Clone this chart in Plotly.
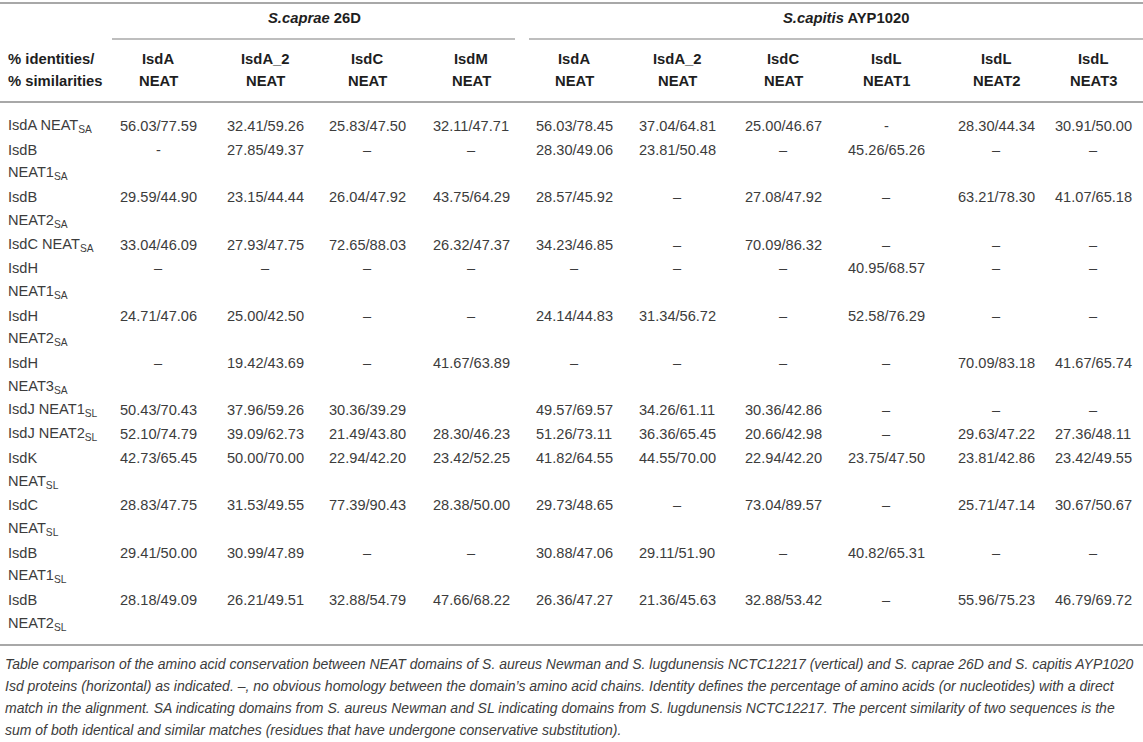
import plotly.graph_objects as go

# ---------------- data ----------------
group_names = ["<i>S.caprae</i> 26D", "<i>S.capitis</i> AYP1020"]
col_top = ["IsdA", "IsdA_2", "IsdC", "IsdM", "IsdA", "IsdA_2", "IsdC", "IsdL", "IsdL", "IsdL"]
col_bottom = ["NEAT", "NEAT", "NEAT", "NEAT", "NEAT", "NEAT", "NEAT", "NEAT1", "NEAT2", "NEAT3"]
corner_label = ["% identities/", "% similarities"]

row_labels = [
    ["IsdA NEAT<sub>SA</sub>"],
    ["IsdB", "NEAT1<sub>SA</sub>"],
    ["IsdB", "NEAT2<sub>SA</sub>"],
    ["IsdC NEAT<sub>SA</sub>"],
    ["IsdH", "NEAT1<sub>SA</sub>"],
    ["IsdH", "NEAT2<sub>SA</sub>"],
    ["IsdH", "NEAT3<sub>SA</sub>"],
    ["IsdJ NEAT1<sub>SL</sub>"],
    ["IsdJ NEAT2<sub>SL</sub>"],
    ["IsdK", "NEAT<sub>SL</sub>"],
    ["IsdC", "NEAT<sub>SL</sub>"],
    ["IsdB", "NEAT1<sub>SL</sub>"],
    ["IsdB", "NEAT2<sub>SL</sub>"],
]

D = "\u2013"
values = [
    ["56.03/77.59", "32.41/59.26", "25.83/47.50", "32.11/47.71", "56.03/78.45", "37.04/64.81", "25.00/46.67", "-", "28.30/44.34", "30.91/50.00"],
    ["-", "27.85/49.37", D, D, "28.30/49.06", "23.81/50.48", D, "45.26/65.26", D, D],
    ["29.59/44.90", "23.15/44.44", "26.04/47.92", "43.75/64.29", "28.57/45.92", D, "27.08/47.92", D, "63.21/78.30", "41.07/65.18"],
    ["33.04/46.09", "27.93/47.75", "72.65/88.03", "26.32/47.37", "34.23/46.85", D, "70.09/86.32", D, D, D],
    [D, D, D, D, D, D, D, "40.95/68.57", D, D],
    ["24.71/47.06", "25.00/42.50", D, D, "24.14/44.83", "31.34/56.72", D, "52.58/76.29", D, D],
    [D, "19.42/43.69", D, "41.67/63.89", D, D, D, D, "70.09/83.18", "41.67/65.74"],
    ["50.43/70.43", "37.96/59.26", "30.36/39.29", "", "49.57/69.57", "34.26/61.11", "30.36/42.86", D, D, D],
    ["52.10/74.79", "39.09/62.73", "21.49/43.80", "28.30/46.23", "51.26/73.11", "36.36/65.45", "20.66/42.98", D, "29.63/47.22", "27.36/48.11"],
    ["42.73/65.45", "50.00/70.00", "22.94/42.20", "23.42/52.25", "41.82/64.55", "44.55/70.00", "22.94/42.20", "23.75/47.50", "23.81/42.86", "23.42/49.55"],
    ["28.83/47.75", "31.53/49.55", "77.39/90.43", "28.38/50.00", "29.73/48.65", D, "73.04/89.57", D, "25.71/47.14", "30.67/50.67"],
    ["29.41/50.00", "30.99/47.89", D, D, "30.88/47.06", "29.11/51.90", D, "40.82/65.31", D, D],
    ["28.18/49.09", "26.21/49.51", "32.88/54.79", "47.66/68.22", "26.36/47.27", "21.36/45.63", "32.88/53.42", D, "55.96/75.23", "46.79/69.72"],
]

caption_lines = [
    "Table comparison of the amino acid conservation between NEAT domains of S. aureus Newman and S. lugdunensis NCTC12217 (vertical) and S. caprae 26D and S. capitis AYP1020",
    "Isd proteins (horizontal) as indicated. \u2013, no obvious homology between the domain\u2019s amino acid chains. Identity defines the percentage of amino acids (or nucleotides) with a direct",
    "match in the alignment. SA indicating domains from S. aureus Newman and SL indicating domains from S. lugdunensis NCTC12217. The percent similarity of two sequences is the",
    "sum of both identical and similar matches (residues that have undergone conservative substitution).",
]

# ---------------- layout geometry (page pixel coordinates) ----------------
W, H = 1143, 742
col_x = [158, 265, 367, 471, 574, 677, 783, 886, 996, 1093]
label_x = 6
group_line_x = [(112, 515), (529, 1143)]
group_label_x = [314, 846]
group_y = 18
group_line_y = 39
head_y = [59, 81]
head_rule_y = 102
top_rule_y = 3
first_line_y = 126
line_step = 23.7
bottom_rule_y = 645
caption_y0 = 664
caption_step = 22

FONT = "Liberation Sans, Arial, Helvetica, sans-serif"
TXT = "#3c3c3c"
HEAD = "#1e1e1e"
RULE = "#a8a8a8"
BODY_SIZE = 14.6
HEAD_SIZE = 14.8

fig = go.Figure()
annotations = []
shapes = []

def ann(x, y, text, size=BODY_SIZE, color=TXT, xanchor="center", family=FONT, yanchor="middle"):
    annotations.append(dict(x=x, y=y, xref="x", yref="y", text=text, showarrow=False,
                            xanchor=xanchor, yanchor=yanchor,
                            font=dict(family=family, size=size, color=color)))

def hline(x0, x1, y, width):
    shapes.append(dict(type="line", xref="x", yref="y", x0=x0, x1=x1, y0=y, y1=y,
                       line=dict(color=RULE, width=width)))

# rules
hline(0, W, top_rule_y, 2)
hline(0, W, head_rule_y, 2)
hline(0, W, bottom_rule_y, 2)
for (x0, x1) in group_line_x:
    hline(x0, x1, group_line_y, 1.5)

# group headers
for name, gx in zip(group_names, group_label_x):
    ann(gx, group_y, "<b>" + name + "</b>", size=HEAD_SIZE, color=HEAD)

# column headers
ann(label_x, head_y[0], "<b>" + corner_label[0] + "</b>", size=HEAD_SIZE, color=HEAD, xanchor="left")
ann(label_x, head_y[1], "<b>" + corner_label[1] + "</b>", size=HEAD_SIZE, color=HEAD, xanchor="left")
for cx, t, b in zip(col_x, col_top, col_bottom):
    ann(cx, head_y[0], "<b>" + t + "</b>", size=HEAD_SIZE, color=HEAD)
    ann(cx, head_y[1], "<b>" + b + "</b>", size=HEAD_SIZE, color=HEAD)

# body
line_idx = 0
for labels, vals in zip(row_labels, values):
    y_first = first_line_y + line_step * line_idx
    for k, lab in enumerate(labels):
        ann(label_x, y_first + line_step * k, lab, xanchor="left")
    for cx, v in zip(col_x, vals):
        if v:
            ann(cx, y_first, v)
    line_idx += len(labels)

# caption
for i, line in enumerate(caption_lines):
    ann(3, caption_y0 + caption_step * i, "<i>" + line + "</i>", size=14, color="#3c3c3c",
        xanchor="left")

fig.update_layout(
    width=W, height=H,
    margin=dict(l=0, r=0, t=0, b=0),
    paper_bgcolor="white", plot_bgcolor="white",
    xaxis=dict(range=[0, W], visible=False, fixedrange=True),
    yaxis=dict(range=[H, 0], visible=False, fixedrange=True),
    annotations=annotations, shapes=shapes, showlegend=False,
)

fig.write_html("out.html", config={"displayModeBar": False},
               post_script="document.body.style.margin='0';document.body.style.overflow='hidden';")
